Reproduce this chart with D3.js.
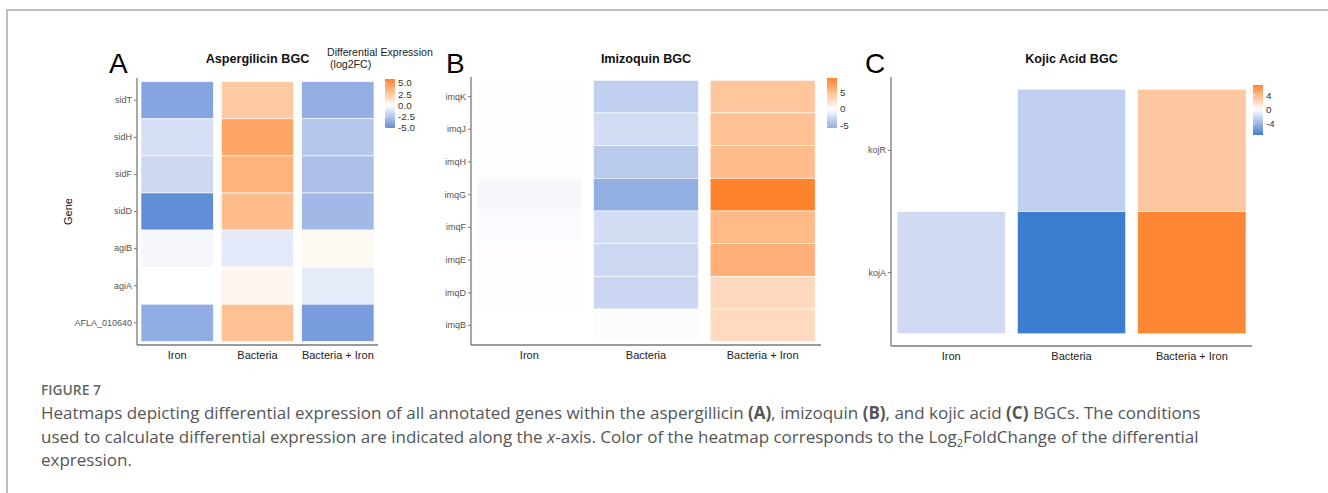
<!DOCTYPE html>
<html>
<head>
<meta charset="utf-8">
<script src="https://cdn.jsdelivr.net/npm/d3@7"></script>
<style>
  body { margin: 0; background: #fff; }
  svg { display: block; }
</style>
</head>
<body>
<div class="figure"></div>
<script>
// conditions along the x axis (same for all three panels)
const conditions = ["Iron", "Bacteria", "Bacteria + Iron"];

// panel A - aspergillicin BGC, log2FC per gene: [Iron, Bacteria, Bacteria + Iron]
const aspGenes = ["sidT", "sidH", "sidF", "sidD", "agiB", "agiA", "AFLA_010640"];
const aspValues = [
    [-4.0, 2.6, -3.5],
    [-1.4, 4.3, -2.5],
    [-1.7, 3.7, -2.8],
    [-5.05, 3.2, -3.1],
    [-0.35, -0.95, 0.3],
    [0.0, 0.45, -0.85],
    [-3.6, 3.0, -4.4]
];
const aspLimits = [-5.05, 5.9];
const aspBreaks = [5, 2.5, 0, -2.5, -5];

// panel B - imizoquin BGC
const imqGenes = ["imqK", "imqJ", "imqH", "imqG", "imqF", "imqE", "imqD", "imqB"];
const imqValues = [
    [0.15, -3.4, 4.5],
    [0.05, -2.5, 5.0],
    [-0.1, -3.8, 5.3],
    [-0.5, -5.9, 9.7],
    [-0.3, -2.5, 5.5],
    [0.15, -2.8, 6.3],
    [0.15, -2.9, 3.0],
    [0.0, -0.2, 2.9]
];
const imqLimits = [-5.9, 9.7];
const imqBreaks = [5, 0, -5];

// panel C - kojic acid BGC (kojR has no Iron value)
const kojGenes = ["kojR", "kojA"];
const kojValues = [
    [null, -2.5, 3.2],
    [-1.9, -7.1, 6.9]
];
const kojLimits = [-7.1, 6.9];
const kojBreaks = [4, 0, -4];

const width = 1328;
const height = 493;
const lowColor = "#3b7dd0";
const highColor = "#ff832c";
const axisColor = "#7a7a7a";
const font = "'Liberation Sans', Arial, sans-serif";

const svg = d3.select('.figure')
    .append('svg')
    .attr('width', width)
    .attr('height', height);

//outer frame (open on the right and bottom)
svg.append('path')
    .attr('d', `M7,${height} V10 H${width}`)
    .attr('fill', 'none')
    .attr('stroke', '#ababab')
    .attr('stroke-width', 1.5);

const panels = [
    {letter: "A", title: "Aspergilicin BGC", genes: aspGenes, values: aspValues, limits: aspLimits, breaks: aspBreaks,
     fmt: d => d.toFixed(1), x0: 137, x1: 378, y0: 78, y1: 345, letterX: 109,
     legendX: 385, legendY0: 79, legendY1: 128, legendTitle: true, yTitle: true},
    {letter: "B", title: "Imizoquin BGC", genes: imqGenes, values: imqValues, limits: imqLimits, breaks: imqBreaks,
     fmt: d => String(d), x0: 471, x1: 821, y0: 77, y1: 345, letterX: 446,
     legendX: 827, legendY0: 78, legendY1: 128},
    {letter: "C", title: "Kojic Acid BGC", genes: kojGenes, values: kojValues, limits: kojLimits, breaks: kojBreaks,
     fmt: d => String(d), x0: 891, x1: 1252, y0: 77, y1: 346, letterX: 865,
     legendX: 1253, legendY0: 85, legendY1: 135}
];

panels.forEach((p, pi) => {
    const g = svg.append('g');

    //flatten the gene x condition table into tiles
    const tiles = [];
    p.genes.forEach((gene, i) => {
        conditions.forEach((cond, j) => {
            if (p.values[i][j] !== null) tiles.push({gene: gene, cond: cond, value: p.values[i][j]});
        });
    });

    const x = d3.scaleBand()
        .domain(conditions)
        .range([p.x0, p.x1])
        .paddingInner(0.1)
        .paddingOuter(0.05);

    const y = d3.scaleBand()
        .domain(p.genes)
        .range([p.y0, p.y1])
        .paddingInner(0)
        .paddingOuter(0.1);

    //gradient2 style colour scale centred on zero
    const ext = p.limits;
    const maxAbs = d3.max(ext, v => Math.abs(v));
    const color = d3.scaleLinear()
        .domain([-maxAbs, 0, maxAbs])
        .range([lowColor, "#ffffff", highColor])
        .interpolate(d3.interpolateLab);

    //tiles
    g.selectAll('rect.tile')
        .data(tiles)
        .enter()
        .append('rect')
        .attr('class', 'tile')
        .attr('x', d => x(d.cond))
        .attr('y', d => y(d.gene))
        .attr('width', x.bandwidth())
        .attr('height', y.bandwidth())
        .attr('fill', d => color(d.value))
        .attr('stroke', '#ffffff')
        .attr('stroke-width', 0.6);

    //axes
    const yAxis = g.append('g')
        .attr('transform', `translate(${p.x0},0)`)
        .call(d3.axisLeft(y).tickSize(3).tickPadding(2));
    const xAxis = g.append('g')
        .attr('transform', `translate(0,${p.y1})`)
        .call(d3.axisBottom(x).tickSize(0).tickPadding(6));

    yAxis.select('.domain').attr('d', `M0,${p.y0}V${p.y1}`);
    xAxis.select('.domain').attr('d', `M${p.x0},0H${p.x1}`);
    g.selectAll('.domain')
        .attr('stroke', axisColor)
        .attr('stroke-width', 1.3);
    yAxis.selectAll('.tick line').attr('stroke', axisColor);
    yAxis.selectAll('.tick text')
        .attr('font-family', font)
        .attr('font-size', 9)
        .attr('fill', '#555');
    xAxis.selectAll('.tick text')
        .attr('font-family', font)
        .attr('font-size', 11)
        .attr('fill', '#222');

    //panel letter and title
    g.append('text')
        .text(p.letter)
        .attr('x', p.letterX)
        .attr('y', 73)
        .attr('font-family', font)
        .attr('font-size', 28)
        .attr('fill', '#000');

    g.append('text')
        .text(p.title)
        .attr('x', (p.x0 + p.x1) / 2)
        .attr('y', 63)
        .attr('text-anchor', 'middle')
        .attr('font-family', font)
        .attr('font-weight', 'bold')
        .attr('font-size', 12.6)
        .attr('fill', '#111');

    if (p.yTitle) {
        g.append('text')
            .text("Gene")
            .attr('transform', `translate(72,${(p.y0 + p.y1) / 2}) rotate(-90)`)
            .attr('text-anchor', 'middle')
            .attr('font-family', font)
            .attr('font-size', 11)
            .attr('fill', '#111');
    }

    //colour bar legend
    const lg = g.append('g');
    const gradId = 'grad' + pi;
    const grad = svg.append('defs')
        .append('linearGradient')
        .attr('id', gradId)
        .attr('x1', 0).attr('y1', 1)
        .attr('x2', 0).attr('y2', 0);
    d3.range(0, 1.0001, 0.05).forEach(t => {
        grad.append('stop')
            .attr('offset', t)
            .attr('stop-color', color(ext[0] + t * (ext[1] - ext[0])));
    });

    const ly = d3.scaleLinear()
        .domain(ext)
        .range([p.legendY1, p.legendY0]);

    lg.append('rect')
        .attr('x', p.legendX)
        .attr('y', p.legendY0)
        .attr('width', 10)
        .attr('height', p.legendY1 - p.legendY0)
        .attr('fill', `url(#${gradId})`);

    lg.selectAll('line.ltick')
        .data(p.breaks)
        .enter()
        .append('line')
        .attr('x1', p.legendX).attr('x2', p.legendX + 2)
        .attr('y1', d => ly(d)).attr('y2', d => ly(d))
        .attr('stroke', '#fff')
        .attr('stroke-width', 0.6);

    lg.selectAll('text.llabel')
        .data(p.breaks)
        .enter()
        .append('text')
        .text(d => p.fmt(d))
        .attr('x', p.legendX + 13)
        .attr('y', d => ly(d) + 3.4)
        .attr('font-family', font)
        .attr('font-size', 9.8)
        .attr('fill', '#333');

    if (p.legendTitle) {
        lg.append('text')
            .text("Differential Expression")
            .attr('x', 327)
            .attr('y', 56)
            .attr('font-family', font)
            .attr('font-size', 10.6)
            .attr('fill', '#222');
        lg.append('text')
            .text("(log2FC)")
            .attr('x', 330)
            .attr('y', 68)
            .attr('font-family', font)
            .attr('font-size', 10.6)
            .attr('fill', '#222');
    }
});

//figure caption
const capFont = "'Open Sans', 'Noto Sans', sans-serif";
svg.append('text')
    .text("FIGURE 7")
    .attr('x', 41)
    .attr('y', 395)
    .attr('font-family', capFont)
    .attr('font-weight', 600)
    .attr('font-size', 13.8)
    .attr('fill', '#666');

const captionLines = [
    [["Heatmaps depicting differential expression of all annotated genes within the aspergillicin ", ""],
     ["(A)", "b"], [", imizoquin ", ""], ["(B)", "b"], [", and kojic acid ", ""], ["(C)", "b"],
     [" BGCs. The conditions", ""]],
    [["used to calculate differential expression are indicated along the ", ""], ["x", "i"],
     ["-axis. Color of the heatmap corresponds to the Log", ""], ["2", "sub"],
     ["FoldChange of the differential", ""]],
    [["expression.", ""]]
];

captionLines.forEach((line, i) => {
    const t = svg.append('text')
        .attr('x', 41)
        .attr('y', 419 + i * 23.5)
        .attr('font-family', capFont)
        .attr('font-size', 17)
        .attr('fill', '#555');
    line.forEach((part, k) => {
        const s = t.append('tspan').text(part[0]);
        if (part[1] === "b") s.attr('font-weight', 'bold');
        if (part[1] === "i") s.attr('font-style', 'italic');
        if (part[1] === "sub") s.attr('font-size', 11).attr('dy', 4);
        if (k > 0 && line[k - 1][1] === "sub") s.attr('dy', -4);
    });
});
</script>
</body>
</html>
